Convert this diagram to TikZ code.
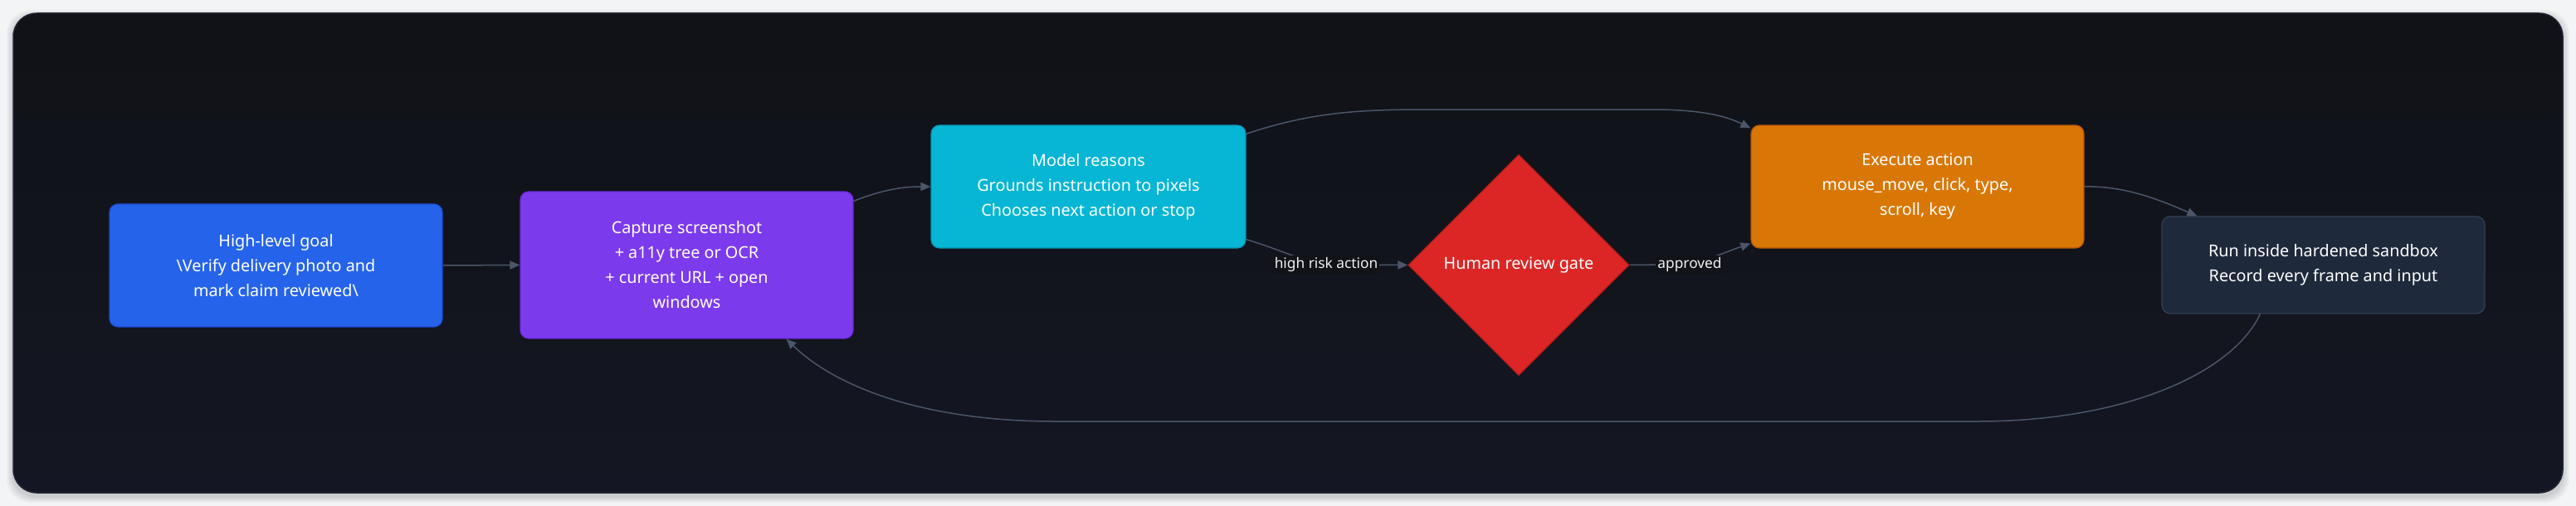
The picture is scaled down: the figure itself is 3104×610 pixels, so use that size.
\documentclass[tikz,border=0pt]{standalone}
\usepackage{fontspec}
\setmainfont{Noto Sans}
\usetikzlibrary{arrows.meta,shapes.geometric,calc}
\definecolor{bgout}{HTML}{F3F4F6}
\definecolor{paneltop}{HTML}{101217}
\definecolor{panelbot}{HTML}{141623}
\definecolor{panelline}{HTML}{1F2633}
\definecolor{cblue}{HTML}{2563EB}
\definecolor{cbluel}{HTML}{1D4ED8}
\definecolor{cpurple}{HTML}{7C3AED}
\definecolor{cpurplel}{HTML}{6D28D9}
\definecolor{ccyan}{HTML}{06B6D4}
\definecolor{ccyanl}{HTML}{0891B2}
\definecolor{cred}{HTML}{DC2626}
\definecolor{credl}{HTML}{B91C1C}
\definecolor{corange}{HTML}{D97706}
\definecolor{corangel}{HTML}{B45309}
\definecolor{cslate}{HTML}{1E293B}
\definecolor{cslatel}{HTML}{334155}
\definecolor{edgec}{HTML}{4B5668}
\definecolor{lblbg}{HTML}{111318}
\begin{document}
\begin{tikzpicture}[x=1pt,y=-1pt,
  box/.style={rectangle, rounded corners=10pt, inner sep=0pt, line width=1.2pt,
    text=white, align=center, font=\fontsize{19.8}{30}\selectfont},
  gate/.style={diamond, aspect=1, inner sep=0pt, minimum size=266pt, line width=1.2pt,
    text=white, align=center, font=\fontsize{19.8}{30}\selectfont},
  lbl/.style={fill=lblbg, inner sep=2pt, text=white!90!gray, font=\fontsize{17.3}{20}\selectfont},
  conn/.style={draw=edgec, line width=1.5pt, -{Triangle[length=12pt,width=10pt]}}
]
\fill[bgout] (0,0) rectangle (3104,610);
\useasboundingbox (0,0) rectangle (3104,610);
\foreach \i in {1,...,8} {
  \fill[black, opacity=0.018, rounded corners=28pt] (16-\i,16-\i+4) rectangle (3088+\i,594+\i+4);
}
\draw[panelline, line width=1.5pt, top color=paneltop, bottom color=panelbot, rounded corners=28pt]
  (16,16) rectangle (3088,594);

\node[box, fill=cblue, draw=cbluel, minimum width=401pt, minimum height=148pt] (goal) at (332.5,320)
  {High-level goal\\\textbackslash Verify delivery photo and\\mark claim reviewed\textbackslash};
\node[box, fill=cpurple, draw=cpurplel, minimum width=401pt, minimum height=177pt] (cap) at (827.5,319.5)
  {Capture screenshot\\+ a11y tree or OCR\\+ current URL + open\\windows};
\node[box, fill=ccyan, draw=ccyanl, minimum width=379pt, minimum height=148pt] (model) at (1311.5,225)
  {Model reasons\\Grounds instruction to pixels\\Chooses next action or stop};
\node[gate, fill=cred, draw=credl] (gate) at (1830,319.5) {Human review gate};
\node[box, fill=corange, draw=corangel, minimum width=401pt, minimum height=148pt] (exec) at (2310.5,225)
  {Execute action\\mouse\_move, click, type,\\scroll, key};
\node[box, fill=cslate, draw=cslatel, minimum width=389pt, minimum height=117pt] (sand) at (2799.5,319.5)
  {Run inside hardened sandbox\\Record every frame and input};

\draw[conn] (goal.east) -- (cap.west);
\draw[conn] ([yshift=-12pt]cap.north east) .. controls (1060,230) and (1085,225) .. (model.west);
\draw[conn] ([yshift=-11pt]model.north east) .. controls (1580,135) and (1640,132) .. (1720,132)
  -- (1990,132) .. controls (2050,132) and (2080,140) .. ([yshift=-4pt]exec.north west);
\draw[conn] ([yshift=11pt]model.south east) .. controls (1550,303) and (1575,319) .. (1610,319) -- (gate.west);
\draw[conn] (gate.east) -- (2010,319) .. controls (2050,319) and (2075,305) .. ([yshift=6pt]exec.south west);
\draw[conn] (exec.east) .. controls (2560,224) and (2600,240) .. ([xshift=43pt]sand.north west);
\draw[conn] ([xshift=119pt]sand.south west) .. controls (2690,450) and (2560,508) .. (2382,508)
  -- (1273,508) .. controls (1100,508) and (1000,460) .. ([xshift=120pt]cap.south);

\node[lbl] (lhigh) at (1598,319) {high risk action};
\node[lbl] (lappr) at (2036,319) {approved};
\end{tikzpicture}
\end{document}
